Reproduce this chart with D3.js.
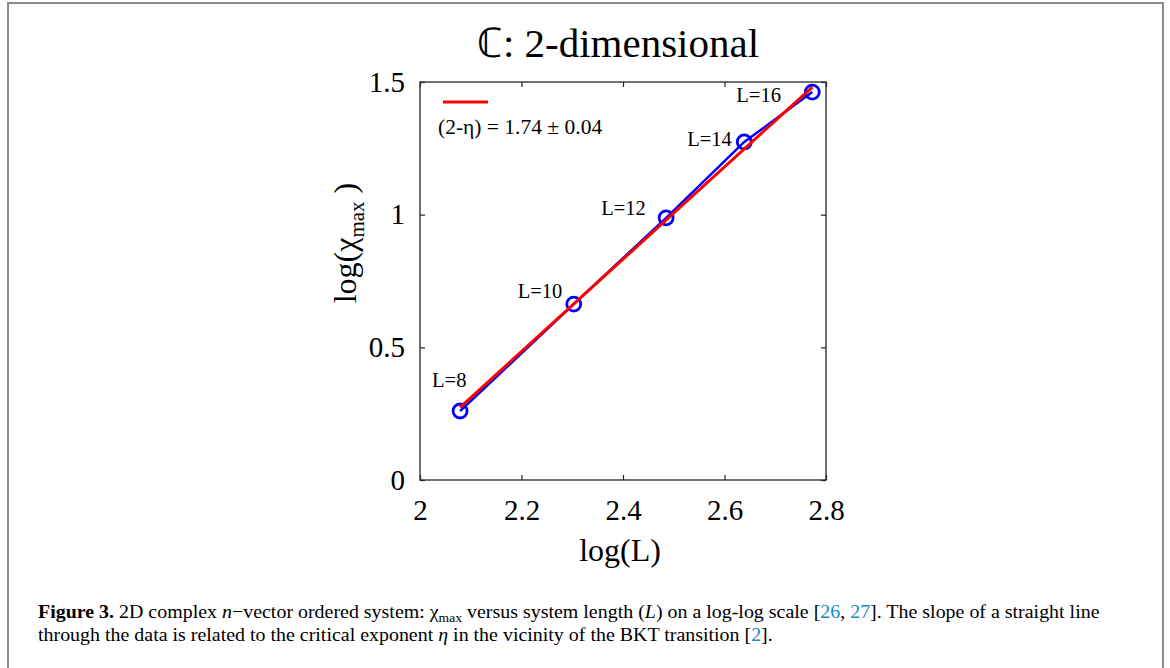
<!DOCTYPE html>
<html>
<head>
<meta charset="utf-8">
<script src="https://cdn.jsdelivr.net/npm/d3@7"></script>
<style>
  body { margin: 0; background: #fff; }
  text { font-family: "Liberation Serif", "Times New Roman", serif; fill: #000; }
</style>
</head>
<body>
<script>
// page size
var w = 1170;
var h = 668;

// data
var sizes = ["L=8", "L=10", "L=12", "L=14", "L=16"];
var logL = [2.079, 2.303, 2.485, 2.639, 2.773];
var logChi = [0.26, 0.663, 0.988, 1.274, 1.462];
var fitX = [2.079, 2.773];
var fitY = [0.274, 1.481];
var xTicks = [2, 2.2, 2.4, 2.6, 2.8];
var yTicks = [0, 0.5, 1, 1.5];

var dataset = logL.map(function(d, i) { return { x: d, y: logChi[i], label: sizes[i] }; });
var fit = fitX.map(function(d, i) { return { x: d, y: fitY[i] }; });

// plot box
var boxL = 420, boxR = 826, boxT = 82, boxB = 480;

var xScale = d3.scaleLinear().domain([2, 2.8]).range([boxL, boxR]);
var yScale = d3.scaleLinear().domain([0, 1.5]).range([boxB, boxT]);

var svg = d3.select("body").append("svg")
    .attr("width", w)
    .attr("height", h);

// outer frame of the page
svg.append("rect")
    .attr("x", 8).attr("y", 3)
    .attr("width", 1155).attr("height", 700)
    .attr("fill", "none")
    .attr("stroke", "#8c8c8c")
    .attr("stroke-width", 2);

// title
svg.append("text")
    .attr("x", 618).attr("y", 57)
    .attr("text-anchor", "middle")
    .style("font-size", "41px")
    .text("\u2102: 2-dimensional");

// axes (ticks inward, mirrored on top/right)
var axisColor = "#262626";
var xAxis = d3.axisBottom(xScale).tickValues(xTicks).tickSize(-5).tickSizeOuter(0).tickPadding(19)
    .tickFormat(d3.format("~g"));
var yAxis = d3.axisLeft(yScale).tickValues(yTicks).tickSize(-5).tickSizeOuter(0).tickPadding(15)
    .tickFormat(d3.format("~g"));

svg.append("g").attr("transform", "translate(0," + boxB + ")").call(xAxis);
svg.append("g").attr("transform", "translate(" + boxL + ",0)").call(yAxis);
svg.append("g").attr("transform", "translate(0," + boxT + ")")
    .call(d3.axisTop(xScale).tickValues(xTicks).tickSize(-5).tickSizeOuter(0).tickFormat(""));
svg.append("g").attr("transform", "translate(" + boxR + ",0)")
    .call(d3.axisRight(yScale).tickValues(yTicks).tickSize(-5).tickSizeOuter(0).tickFormat(""));

svg.selectAll(".domain").remove();
svg.selectAll(".tick line").attr("stroke", axisColor).attr("stroke-width", 1.2);
svg.selectAll(".tick text")
    .style("font-family", "Liberation Serif, serif")
    .style("font-size", "29px")
    .attr("fill", "#000");

svg.append("rect")
    .attr("x", boxL).attr("y", boxT)
    .attr("width", boxR - boxL).attr("height", boxB - boxT)
    .attr("fill", "none")
    .attr("stroke", axisColor)
    .attr("stroke-width", 1.3);

// axis labels
svg.append("text")
    .attr("x", 620).attr("y", 561)
    .attr("text-anchor", "middle")
    .style("font-size", "32px")
    .text("log(L)");

var ylab = svg.append("text")
    .attr("transform", "translate(356,243) rotate(-90)")
    .attr("text-anchor", "middle")
    .style("font-size", "32px");
ylab.append("tspan").text("log(\u03c7");
ylab.append("tspan").attr("dy", 8).style("font-size", "21px").text("max");
ylab.append("tspan").attr("dy", -8).text(" )");

// data line + markers
var line = d3.line()
    .x(function(d) { return xScale(d.x); })
    .y(function(d) { return yScale(d.y); });

svg.append("path")
    .datum(dataset)
    .attr("d", line)
    .attr("fill", "none")
    .attr("stroke", "#0000ff")
    .attr("stroke-width", 2.5);

svg.selectAll("circle.pt")
    .data(dataset)
    .enter().append("circle")
    .attr("class", "pt")
    .attr("cx", function(d) { return xScale(d.x); })
    .attr("cy", function(d) { return yScale(d.y); })
    .attr("r", 7)
    .attr("fill", "none")
    .attr("stroke", "#0000ff")
    .attr("stroke-width", 2.8);

// fit line
svg.append("path")
    .datum(fit)
    .attr("d", line)
    .attr("fill", "none")
    .attr("stroke", "#ff0000")
    .attr("stroke-width", 3);

// point labels
var labelOffsets = [[-28, -24], [-56, -6], [-65, -3], [-57, 4], [-76, 10]];
svg.selectAll("text.lab")
    .data(dataset)
    .enter().append("text")
    .attr("class", "lab")
    .attr("x", function(d, i) { return xScale(d.x) + labelOffsets[i][0]; })
    .attr("y", function(d, i) { return yScale(d.y) + labelOffsets[i][1]; })
    .style("font-size", "20.5px")
    .text(function(d) { return d.label; });

// legend
svg.append("line")
    .attr("x1", 443).attr("x2", 488)
    .attr("y1", 102).attr("y2", 102)
    .attr("stroke", "#ff0000")
    .attr("stroke-width", 3);
svg.append("text")
    .attr("x", 438).attr("y", 134)
    .style("font-size", "21.5px")
    .text("(2-\u03b7) = 1.74 \u00b1 0.04");

// caption
var cap1 = svg.append("text").attr("x", 38).attr("y", 618).style("font-size", "19px");
cap1.append("tspan").style("font-weight", "bold").text("Figure 3.");
cap1.append("tspan").text(" 2D complex ");
cap1.append("tspan").style("font-style", "italic").text("n");
cap1.append("tspan").text("\u2212vector ordered system: \u03c7");
cap1.append("tspan").attr("dy", 4).style("font-size", "13px").text("max");
cap1.append("tspan").attr("dy", -4).text(" versus system length (");
cap1.append("tspan").style("font-style", "italic").text("L");
cap1.append("tspan").text(") on a log-log scale [");
cap1.append("tspan").style("fill", "#1b8ac4").text("26");
cap1.append("tspan").text(", ");
cap1.append("tspan").style("fill", "#1b8ac4").text("27");
cap1.append("tspan").text("]. The slope of a straight line");

var cap2 = svg.append("text").attr("x", 38).attr("y", 641).style("font-size", "19px");
cap2.append("tspan").text("through the data is related to the critical exponent ");
cap2.append("tspan").style("font-style", "italic").text("\u03b7");
cap2.append("tspan").text(" in the vicinity of the BKT transition [");
cap2.append("tspan").style("fill", "#1b8ac4").text("2");
cap2.append("tspan").text("].");

// squeeze caption lines to the width seen in the figure
var w1 = cap1.node().getComputedTextLength();
var sx = 1062 / w1;
cap1.attr("transform", "translate(38,0) scale(" + sx + ",1) translate(-38,0)");
cap2.attr("transform", "translate(38,0) scale(" + sx + ",1) translate(-38,0)");
</script>
</body>
</html>
